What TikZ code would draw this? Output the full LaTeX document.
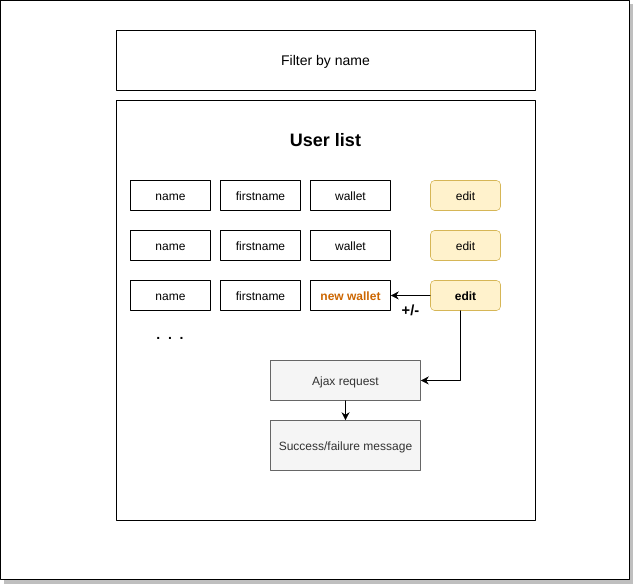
\documentclass[tikz,border=0pt]{standalone}
\usepackage{fontspec}
\setmainfont{Liberation Sans}
\usetikzlibrary{arrows.meta,positioning}
\definecolor{editfill}{HTML}{FFF2CC}
\definecolor{editdraw}{HTML}{D6B656}
\definecolor{ajaxfill}{HTML}{F5F5F5}
\definecolor{ajaxdraw}{HTML}{666666}
\definecolor{ajaxtext}{HTML}{333333}
\definecolor{walletorange}{HTML}{CC6600}
\tikzset{
  cell/.style={draw,minimum width=60,minimum height=22.5,inner sep=0pt,text height=1.6ex,text depth=0.1ex,font=\fontsize{9}{10}\selectfont},
  editbtn/.style={cell,minimum width=52.5,fill=editfill,draw=editdraw,rounded corners=3},
  ajaxbox/.style={draw=ajaxdraw,fill=ajaxfill,text=ajaxtext,minimum width=112.5,inner sep=0pt,text height=1.6ex,text depth=0.1ex,font=\fontsize{9}{10}\selectfont},
}
\begin{document}
\begin{tikzpicture}[line cap=round,line join=round,>={Stealth[length=6pt,width=6pt]},x=0.75pt,y=-0.75pt]
\useasboundingbox (0,0) rectangle (633,584);
\fill[black!25] (4,4) rectangle (633,584);
\draw[fill=white] (0.5,0.5) rectangle (629,579.5);
\node[draw,minimum width=314.25,minimum height=45,text height=1.6ex,text depth=0.1ex,font=\fontsize{10.5}{12}\selectfont] (filter) at (325.5,60.5) {Filter by name};
\node[draw,minimum width=314.25,minimum height=315] (userlist) at (325.5,310.5) {};
\node[font=\bfseries\fontsize{13.5}{15}\selectfont] (title) at (325.5,140) {User list};
% rows
\foreach \r/\y in {1/195.5,2/245.5} {
  \node[cell] (name\r) at (170.5,\y) {name};
  \node[cell] (first\r) at (260.5,\y) {firstname};
  \node[cell] (wallet\r) at (350.5,\y) {wallet};
  \node[editbtn] (edit\r) at (465.5,\y) {edit};
}
\node[cell] (name3) at (170.5,295.5) {name};
\node[cell] (first3) at (260.5,295.5) {firstname};
\node[cell,text=walletorange,font=\bfseries\fontsize{9}{10}\selectfont] (wallet3) at (350.5,295.5) {new wallet};
\node[editbtn,font=\bfseries\fontsize{9}{10}\selectfont] (edit3) at (465.5,295.5) {edit};
\node[font=\bfseries\fontsize{10.5}{12}\selectfont] (dots) at (170,338) {.\ \ .\ \ .};
\node[ajaxbox,minimum height=30] (ajax) at (345.5,380.5) {Ajax request};
\node[ajaxbox,minimum height=37.5] (result) at (345.5,445.5) {Success/failure message};
\draw[->] (edit3) -- node[below=3.5pt,font=\bfseries\fontsize{11}{12}\selectfont] (plusminus) {+/-} (wallet3);
\draw[->] ([xshift=-3.75pt]edit3.south) |- (ajax.east);
\draw[->] (ajax) -- (result);
\end{tikzpicture}
\end{document}
